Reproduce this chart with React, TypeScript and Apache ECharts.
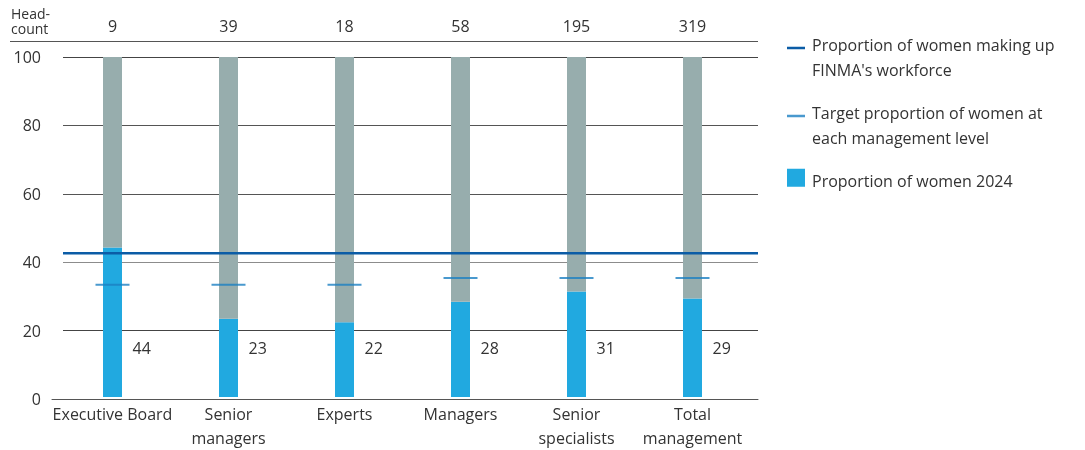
import React, { useEffect, useRef } from "react";
import * as echarts from "echarts";

const categories = ["Executive Board", "Senior\nmanagers", "Experts", "Managers", "Senior\nspecialists", "Total\nmanagement"];
const headcount = ["9", "39", "18", "58", "195", "319"];
const women2024 = [44, 23, 22, 28, 31, 29];
const targets = [33, 33, 33, 35, 35, 35];
const workforceShare = 42.6;
const yTicks = [0, 20, 40, 60, 80, 100];

const NAME_WOMEN = "Proportion of women 2024";
const NAME_WORKFORCE = "Proportion of women making up\nFINMA's workforce";
const NAME_TARGET = "Target proportion of women at\neach management level";

const FONT = "Open Sans";
const TXT = "#333333";

export default function App() {
  const ref = useRef<HTMLDivElement>(null);
  useEffect(() => {
    if (!ref.current) return;
    const chart = echarts.init(ref.current, null, { renderer: "svg" });
    const rest = women2024.map((v) => 100 - v);
    const lineIcon = "path://M0,0h0.01v0.01h-0.01z M0,2.7h18v2.6h-18z M17.99,25.99h0.01v0.01h-0.01z";
    const squareIcon = "path://M0,0h0.01v0.01h-0.01z M0,0.8h18v18h-18z M17.99,25.99h0.01v0.01h-0.01z";
    chart.setOption({
      animation: false,
      textStyle: { fontFamily: FONT, color: TXT },
      grid: [
        { left: 54.5, right: 334.5, top: 57, bottom: 51 },
        { left: 63, right: 327, top: 57, bottom: 51 },
        { left: 52, right: 327, top: 57, bottom: 51 },
      ],
      xAxis: [
        {
          gridIndex: 0,
          type: "category",
          data: categories,
          axisLine: { show: false },
          axisTick: { show: false },
          axisLabel: { fontSize: 16, lineHeight: 24, color: TXT, margin: 5, interval: 0, fontFamily: FONT },
        },
        {
          gridIndex: 0,
          type: "category",
          position: "top",
          data: headcount,
          axisLine: { show: false },
          axisTick: { show: false },
          axisLabel: { fontSize: 16, color: TXT, margin: 23, interval: 0, fontFamily: FONT },
        },
        { gridIndex: 1, type: "value", min: 0, max: 1, show: false },
        {
          gridIndex: 2,
          type: "value",
          min: 0,
          max: 1,
          axisLine: { show: true, lineStyle: { color: "#555555", width: 1 } },
          axisTick: { show: false },
          axisLabel: { show: false },
          splitLine: { show: false },
        },
      ],
      yAxis: [
        { gridIndex: 0, type: "value", min: 0, max: 100, show: false },
        {
          gridIndex: 1,
          type: "value",
          min: 0,
          max: 100,
          interval: 20,
          axisLine: { show: false },
          axisTick: { show: false },
          axisLabel: {
            fontSize: 16,
            color: TXT,
            margin: 22,
            fontFamily: FONT,
            formatter: (v: number) => (yTicks.includes(v) ? String(v) : ""),
          },
          splitLine: {
            show: true,
            lineStyle: { color: ["transparent", "#444444", "#8c8c8c", "#555555", "#555555", "#444444"], width: 1 },
          },
        },
        { gridIndex: 2, type: "value", min: 0, max: 100, show: false },
      ],
      legend: {
        orient: "vertical",
        left: 787,
        top: 32,
        padding: 0,
        itemWidth: 18,
        itemHeight: 26,
        itemGap: 18,
        selectedMode: false,
        textStyle: { fontSize: 16, lineHeight: 25, color: TXT, fontFamily: FONT, padding: [0, 0, 0, 2] },
        data: [
          { name: NAME_WORKFORCE, icon: lineIcon, itemStyle: { color: "#0b5ca6", borderWidth: 0 } },
          { name: NAME_TARGET, icon: lineIcon, itemStyle: { color: "#1b80c2", borderWidth: 0 } },
          { name: NAME_WOMEN, icon: squareIcon, itemStyle: { color: "#21a9e0", borderWidth: 0 } },
        ],
      },
      series: [
        {
          name: NAME_WOMEN,
          type: "bar",
          xAxisIndex: 0,
          yAxisIndex: 0,
          stack: "total",
          barWidth: 19,
          data: women2024,
          itemStyle: { color: "#21a9e0" },
          label: {
            show: true,
            position: "insideBottom",
            distance: 0,
            align: "left",
            verticalAlign: "middle",
            offset: [20, -49],
            fontSize: 16,
            color: TXT,
            fontFamily: FONT,
          },
          z: 2,
        },
        {
          name: "rest",
          type: "bar",
          xAxisIndex: 0,
          yAxisIndex: 0,
          stack: "total",
          barWidth: 19,
          data: rest,
          itemStyle: { color: "#97adad" },
          z: 2,
        },
        {
          name: NAME_TARGET,
          type: "scatter",
          xAxisIndex: 0,
          yAxisIndex: 0,
          symbol: "rect",
          symbolSize: [34, 2],
          data: targets,
          itemStyle: { color: "#1b80c2" },
          z: 5,
        },
        {
          name: NAME_WORKFORCE,
          type: "line",
          xAxisIndex: 2,
          yAxisIndex: 1,
          symbol: "none",
          data: [
            [0, workforceShare],
            [1, workforceShare],
          ],
          lineStyle: { color: "#0b5ca6", width: 2.5 },
          itemStyle: { color: "#0b5ca6" },
          z: 6,
        },
      ],
      graphic: [
        {
          type: "text",
          left: 11,
          top: 6,
          style: { text: "Head-\ncount", fontSize: 14, lineHeight: 15, fill: TXT, fontFamily: FONT },
        },
        {
          type: "line",
          shape: { x1: 10, y1: 41.5, x2: 758, y2: 41.5 },
          style: { stroke: "#555555", lineWidth: 1 },
        },
      ],
    });
    return () => chart.dispose();
  }, []);
  return <div ref={ref} style={{ position: "fixed", left: 0, top: 0, width: 1085, height: 450 }} />;
}
